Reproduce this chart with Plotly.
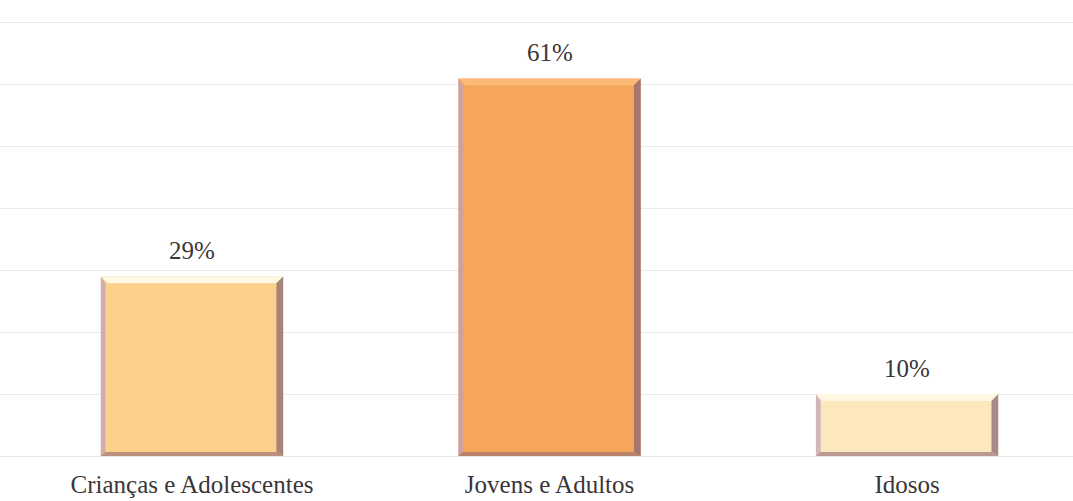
import plotly.graph_objects as go

# Age groups and their share (%)
categories = ["Crianças e Adolescentes", "Jovens e Adultos", "Idosos"]
values = [29, 61, 10]
labels = ["29%", "61%", "10%"]

face_colors = ["#FBD08A", "#F6A65A", "#FCE8BC"]
top_colors = ["rgba(255,252,235,0.9)", "rgba(255,200,140,0.6)", "rgba(255,250,235,0.8)"]
x_pos = list(range(len(categories)))
bar_width = 0.51

fig = go.Figure()
fig.add_trace(go.Bar(
    x=x_pos, y=values, width=bar_width,
    marker=dict(color=face_colors, line=dict(width=0)),
    hoverinfo="skip",
))

# Bevelled edges on each bar, computed in axis units
dx = 0.019   # horizontal bevel thickness
dy = 1.1     # vertical bevel thickness
for xc, v, top in zip(x_pos, values, top_colors):
    x0, x1 = xc - bar_width / 2, xc + bar_width / 2
    y0, y1 = 0, v
    edges = [
        # top highlight
        (f"M {x0},{y1} L {x1},{y1} L {x1-dx},{y1-dy} L {x0+dx},{y1-dy} Z", top),
        # left edge
        (f"M {x0},{y0} L {x0},{y1} L {x0+dx*0.7},{y1-dy} L {x0+dx*0.7},{y0+dy*0.6} Z", "rgba(190,160,190,0.7)"),
        # right edge
        (f"M {x1},{y0} L {x1},{y1} L {x1-dx},{y1-dy} L {x1-dx},{y0+dy*0.6} Z", "rgba(130,100,115,0.7)"),
        # bottom edge
        (f"M {x0},{y0} L {x1},{y0} L {x1-dx},{y0+dy*0.6} L {x0+dx*0.7},{y0+dy*0.6} Z", "rgba(150,110,120,0.65)"),
    ]
    for path, col in edges:
        fig.add_shape(type="path", path=path, xref="x", yref="y",
                      fillcolor=col, line=dict(width=0), layer="above")

for xc, v, t in zip(x_pos, values, labels):
    fig.add_annotation(x=xc, y=v, text=t, showarrow=False, yanchor="middle",
                       yshift=26, font=dict(family="Liberation Serif", size=25, color="#3b3538"))

fig.update_layout(
    width=1073, height=501,
    margin=dict(l=0, r=0, t=21, b=45),
    paper_bgcolor="white", plot_bgcolor="white",
    showlegend=False,
    font=dict(family="Liberation Serif", size=25, color="#3b3538"),
    xaxis=dict(
        range=[-0.537, 2.464],
        tickvals=x_pos, ticktext=categories,
        showgrid=False, zeroline=False, showline=False,
        ticks="", ticklabelstandoff=11,
        fixedrange=True,
    ),
    yaxis=dict(
        range=[0, 70.3], tickvals=[10, 20, 30, 40, 50, 60, 70],
        showticklabels=False,
        showgrid=True, gridcolor="#ebebeb", gridwidth=1,
        zeroline=True, zerolinecolor="#e6e6e6", zerolinewidth=1,
        showline=False, fixedrange=True,
    ),
)

fig.write_html("out.html")
